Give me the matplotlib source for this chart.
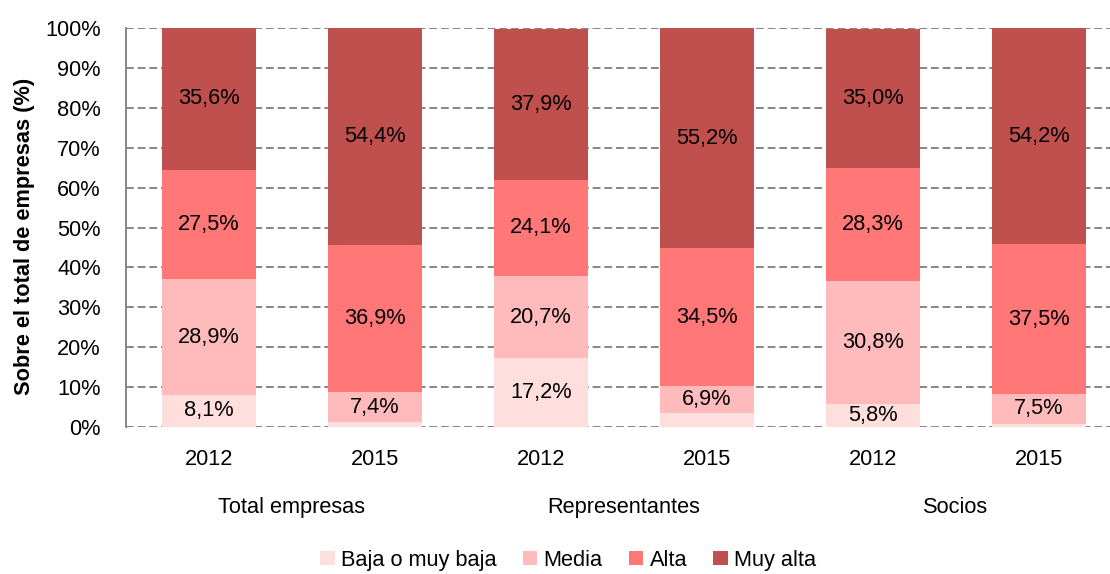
import numpy as np
import matplotlib.pyplot as plt
from matplotlib.patches import Patch

years = ['2012', '2015', '2012', '2015', '2012', '2015']
groups = ['Total empresas', 'Representantes', 'Socios']
series = ['Baja o muy baja', 'Media', 'Alta', 'Muy alta']

baja = [8.1, 1.3, 17.2, 3.4, 5.8, 0.8]
media = [28.9, 7.4, 20.7, 6.9, 30.8, 7.5]
alta = [27.5, 36.9, 24.1, 34.5, 28.3, 37.5]
muy_alta = [35.6, 54.4, 37.9, 55.2, 35.0, 54.2]

colors = ['#FFDEDE', '#FFBBBB', '#FF7777', '#C0504D']

plt.rcParams['font.family'] = ['Liberation Sans', 'DejaVu Sans']
fs = 15.7

fig = plt.figure(figsize=(11.1, 5.74), dpi=100)
ax = fig.add_axes([0.1135, 0.256, 0.8865, 0.695])

x = np.arange(len(years))
width = 0.566
bottom = np.zeros(len(years))
for name, vals, col in zip(series, [baja, media, alta, muy_alta], colors):
    vals = np.array(vals)
    ax.bar(x, vals, width, bottom=bottom, color=col, label=name, zorder=3)
    for xi, b, v in zip(x, bottom, vals):
        if v >= 5:
            ax.text(xi, b + v / 2, ('%.1f%%' % v).replace('.', ','),
                    ha='center', va='center', fontsize=fs, color='black', zorder=4)
    bottom += vals

ax.set_xlim(-0.5, 5.43)
ax.set_ylim(0, 100)
ax.set_yticks(range(0, 101, 10))
ax.set_yticklabels(['%d%%' % v for v in range(0, 101, 10)], fontsize=fs)
ax.set_xticks(x)
ax.set_xticklabels(years, fontsize=fs)
ax.tick_params(length=0)
ax.tick_params(axis='y', pad=18)
ax.tick_params(axis='x', pad=16)

ax.yaxis.grid(True, linestyle=(0, (4, 2)), color='#868686', linewidth=1.4, zorder=0)
ax.set_axisbelow(True)
for s in ['top', 'right', 'bottom']:
    ax.spines[s].set_visible(False)
ax.spines['left'].set_color('#868686')
ax.spines['left'].set_linewidth(1.4)

fig.text(25 / 1110, 1 - 236 / 574, 'Sobre el total de empresas (%)', rotation=90,
         ha='center', va='center', fontsize=15.7, fontweight='bold')

for i, g in enumerate(groups):
    ax.text(2 * i + 0.5, -20.2, g, ha='center', va='center', fontsize=fs,
            transform=ax.transData, clip_on=False)

handles = [Patch(facecolor=c, label=n) for n, c in zip(series, colors)]
fig.legend(handles=handles, loc='center', bbox_to_anchor=(0.512, 0.024), ncol=4,
           frameon=False, fontsize=fs, handlelength=0.65, handleheight=0.65,
           handletextpad=0.3, columnspacing=1.2)

fig.savefig('out.png', dpi=100)
